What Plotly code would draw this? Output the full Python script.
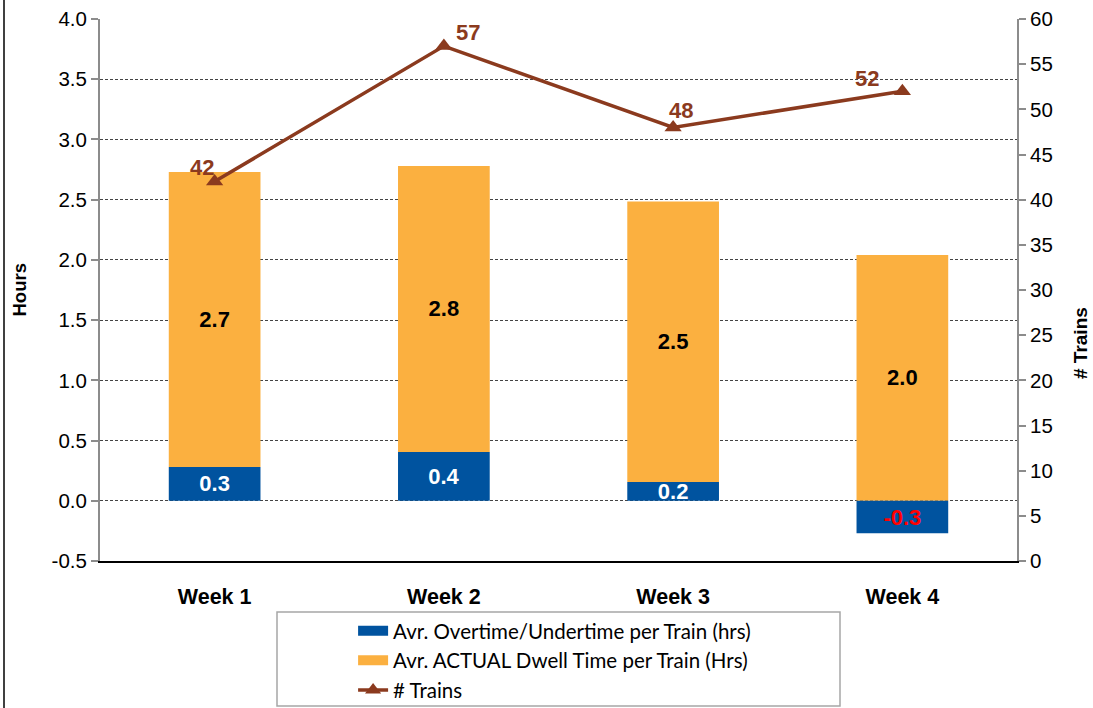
import plotly.graph_objects as go

weeks = ["Week 1", "Week 2", "Week 3", "Week 4"]
overtime = [0.28, 0.405, 0.155, -0.27]
dwell = [2.73, 2.78, 2.485, 2.04]
trains = [42, 57, 48, 52]
hours_ticks = [-0.5, 0.0, 0.5, 1.0, 1.5, 2.0, 2.5, 3.0, 3.5, 4.0]
hours_labels = ["-0.5", "0.0", "0.5", "1.0", "1.5", "2.0", "2.5", "3.0", "3.5", "4.0"]

# label offsets (pixels) for the # Trains data labels
label_dx = [-13, 24, 8, -35]
label_dy = [14, 14, 17, 13]

BLUE = "#00539F"
ORANGE = "#FBB040"
BROWN = "#8B3A1E"
FONT = "Liberation Sans, Arial, sans-serif"
LEGFONT = "Lato, Open Sans, sans-serif"

base_orange = [max(0, v) for v in overtime]
orange_h = [d - b for d, b in zip(dwell, base_orange)]

fig = go.Figure()
fig.add_trace(go.Bar(
    x=weeks, y=orange_h, base=base_orange, name="Avr. ACTUAL Dwell Time per Train (Hrs)",
    marker=dict(color=ORANGE, line=dict(width=0)), width=0.4,
    text=[f"{v:.1f}" for v in dwell], textposition="inside", insidetextanchor="middle",
    textfont=dict(family=FONT, size=22, color="black", weight="bold"), constraintext="none",
    showlegend=False, hoverinfo="skip",
))
fig.add_trace(go.Bar(
    x=weeks, y=overtime, name="Avr. Overtime/Undertime per Train (hrs)",
    marker=dict(color=BLUE, line=dict(width=0)), width=0.4,
    text=[f"{v:.1f}" for v in overtime], textposition="inside", insidetextanchor="middle",
    textfont=dict(family=FONT, size=22, color=["white" if v >= 0 else "#FF0000" for v in overtime], weight="bold"),
    constraintext="none", showlegend=False, hoverinfo="skip",
))
fig.add_trace(go.Scatter(
    x=weeks, y=trains, yaxis="y2", name="# Trains", mode="lines+markers",
    line=dict(color=BROWN, width=3.5),
    marker=dict(symbol="triangle-up", size=15, color=BROWN),
    cliponaxis=False, showlegend=False, hoverinfo="skip",
))
# legend entries
fig.add_trace(go.Scatter(x=[None], y=[None], mode="lines", name="Avr. Overtime/Undertime per Train (hrs)",
                         line=dict(color=BLUE, width=12), legendrank=1))
fig.add_trace(go.Scatter(x=[None], y=[None], mode="lines", name="Avr. ACTUAL Dwell Time per Train (Hrs)",
                         line=dict(color=ORANGE, width=12), legendrank=2))
fig.add_trace(go.Scatter(x=[None], y=[None], mode="lines+markers", name="# Trains",
                         line=dict(color=BROWN, width=3.5),
                         marker=dict(symbol="triangle-up", size=14, color=BROWN), legendrank=3))

annotations = [
    dict(x=w, y=t, xref="x", yref="y2", text=f"<b>{t}</b>", showarrow=False,
         xshift=dx, yshift=dy, xanchor="center", yanchor="middle",
         font=dict(family=FONT, size=22, color=BROWN))
    for w, t, dx, dy in zip(weeks, trains, label_dx, label_dy)
]
annotations += [
    dict(text="<b>Hours</b>", textangle=-90, xref="paper", yref="paper",
         x=(18.5 - 100) / 917, y=(561 - 290) / 542, xanchor="center", yanchor="middle", showarrow=False,
         font=dict(family=FONT, size=18.5)),
    dict(text="<b># Trains</b>", textangle=-90, xref="paper", yref="paper",
         x=(1080 - 100) / 917, y=(561 - 343) / 542, xanchor="center", yanchor="middle", showarrow=False,
         font=dict(family=FONT, size=19)),
]

fig.update_layout(
    width=1093, height=708,
    margin=dict(l=100, r=76, t=19, b=147, autoexpand=False),
    paper_bgcolor="white", plot_bgcolor="white",
    barmode="overlay",
    font=dict(family=FONT, size=20, color="black"),
    showlegend=True,
    legend=dict(
        x=0.276, xanchor="left", y=-0.092, yanchor="top",
        font=dict(family=LEGFONT, size=20.5, color="black"),
        bgcolor="rgba(0,0,0,0)", tracegroupgap=0, traceorder="normal",
    ),
    xaxis=dict(
        showline=True, linecolor="black", linewidth=1.5, mirror=False,
        tickfont=dict(family=FONT, size=21.5, weight="bold"), ticks="", showgrid=False,
        range=[-0.5, 3.5], ticklabelstandoff=15,
    ),
    yaxis=dict(
        range=[-0.5, 4.0], tickvals=hours_ticks, ticktext=hours_labels,
        showgrid=True, gridcolor="#444444", griddash="3px,2px", gridwidth=1,
        zeroline=False, showline=True, linecolor="#8C8C8C", linewidth=2,
        ticks="outside", ticklen=7, tickcolor="#8C8C8C", tickwidth=1.5,
        tickfont=dict(family=FONT, size=20.5),
    ),
    yaxis2=dict(
        range=[0, 60], dtick=5, overlaying="y", side="right",
        showgrid=False, zeroline=False, showline=True, linecolor="#8C8C8C", linewidth=2,
        ticks="outside", ticklen=7, tickcolor="#8C8C8C", tickwidth=1.5,
        tickfont=dict(family=FONT, size=20.5),
    ),
    annotations=annotations,
    shapes=[
        dict(type="rect", xref="paper", yref="paper",
             x0=(277 - 100) / 917, x1=(840 - 100) / 917,
             y0=(561 - 612) / 542, y1=(561 - 706) / 542,
             line=dict(color="#A6A6A6", width=1.5)),
        dict(type="line", xref="paper", yref="paper",
             x0=(4 - 100) / 917, x1=(4 - 100) / 917, y0=(561 - 0) / 542, y1=(561 - 708) / 542,
             line=dict(color="black", width=1.5)),
    ],
)

fig.write_html("out.html", config={"displayModeBar": False},
               post_script="document.body.style.margin='0';document.body.style.overflow='hidden';")
